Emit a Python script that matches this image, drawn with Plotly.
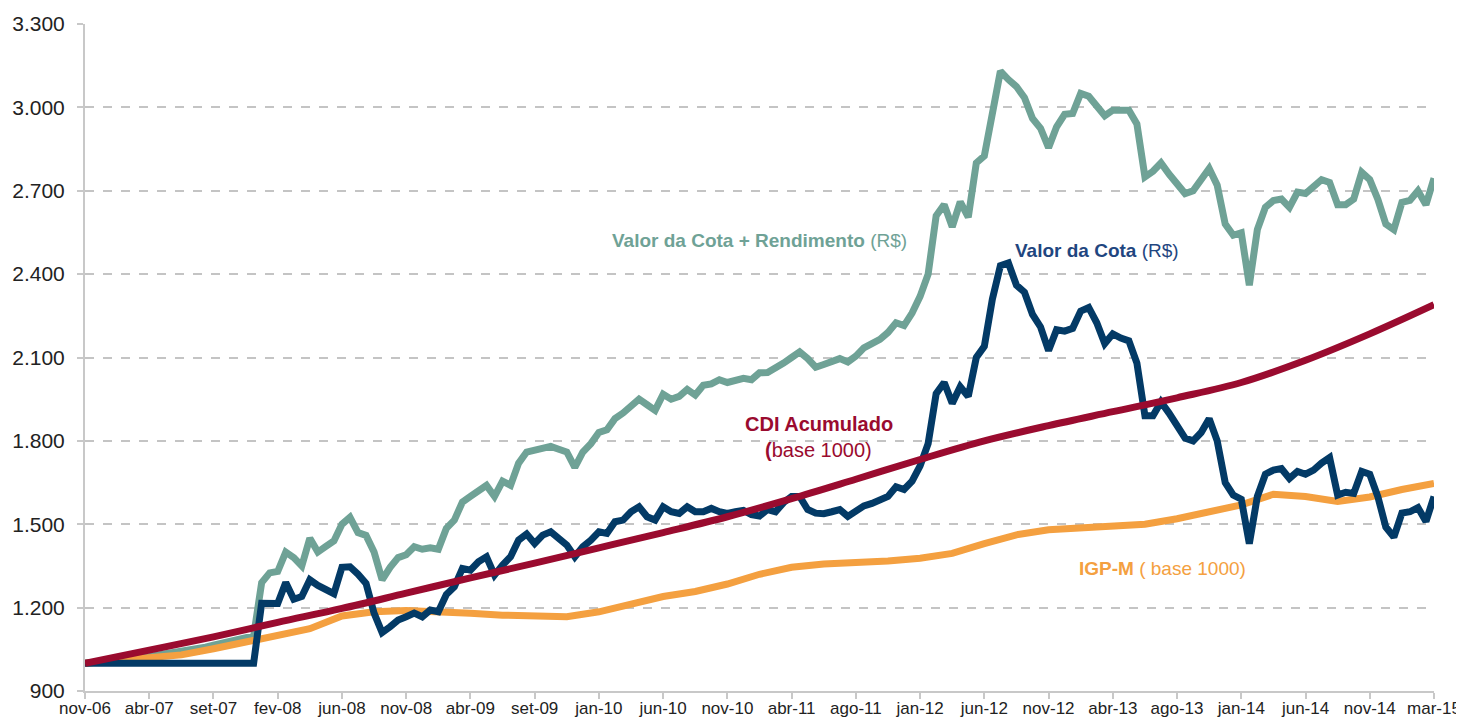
import plotly.graph_objects as go

# Tick labels (equally spaced category ticks, ~100 business days apart)
tick_labels = ["nov-06", "abr-07", "set-07", "fev-08", "jun-08", "nov-08", "abr-09",
               "set-09", "jan-10", "jun-10", "nov-10", "abr-11", "ago-11", "jan-12",
               "jun-12", "nov-12", "abr-13", "ago-13", "jan-14", "jun-14", "nov-14", "mar-15"]

# Valor da Cota (R$) - sampled 8 times per tick interval
valor_cota = [
    1000, 1000, 1000, 1000, 1000, 1000, 1000, 1000, 1000, 1000, 1000, 1000, 1000, 1000, 1000, 1000,
    1000, 1000, 1000, 1000, 1000, 1000, 1216, 1215, 1215, 1290, 1230, 1240, 1300, 1280, 1265, 1250,
    1345, 1347, 1320, 1287, 1180, 1110, 1131, 1155, 1167, 1180, 1167, 1191, 1185, 1247, 1275, 1341,
    1335, 1365, 1383, 1317, 1353, 1383, 1443, 1465, 1431, 1461, 1473, 1449, 1425, 1383, 1419, 1443,
    1473, 1467, 1509, 1515, 1545, 1563, 1527, 1515, 1563, 1545, 1539, 1563, 1545, 1545, 1557, 1545,
    1539, 1545, 1550, 1535, 1530, 1553, 1545, 1578, 1600, 1600, 1553, 1540, 1538, 1545, 1553, 1528,
    1545, 1566, 1575, 1590, 1600, 1635, 1625, 1655, 1710, 1790, 1970, 2010, 1935, 1995, 1960, 2100,
    2140, 2310, 2430, 2440, 2360, 2335, 2255, 2210, 2125, 2200, 2195, 2205, 2267, 2280, 2225, 2150,
    2185, 2170, 2160, 2080, 1890, 1890, 1940, 1900, 1860, 1810, 1800, 1830, 1880, 1800, 1650, 1605,
    1590, 1430, 1600, 1680, 1695, 1700, 1665, 1690, 1680, 1695, 1720, 1740, 1605, 1615, 1611, 1690,
    1680, 1600, 1490, 1454, 1540, 1545, 1560, 1510, 1600,
]

# Valor da Cota + Rendimento (R$) - sampled 8 times per tick interval
valor_cota_rend = [
    1000, 1002, 1004, 1007, 1010, 1013, 1017, 1020, 1024, 1028, 1032, 1036, 1041, 1046, 1051, 1058,
    1065, 1071, 1078, 1085, 1092, 1098, 1290, 1325, 1330, 1400, 1380, 1350, 1450, 1400, 1420, 1440,
    1500, 1525, 1470, 1460, 1400, 1300, 1345, 1380, 1390, 1419, 1410, 1415, 1410, 1485, 1515, 1580,
    1600, 1623, 1640, 1600, 1655, 1640, 1720, 1760, 1765, 1775, 1780, 1770, 1760, 1705, 1760, 1790,
    1830, 1840, 1880, 1900, 1925, 1950, 1930, 1910, 1968, 1950, 1960, 1985, 1965, 2000, 2005, 2020,
    2010, 2015, 2025, 2020, 2045, 2046, 2060, 2080, 2100, 2120, 2096, 2065, 2075, 2085, 2096, 2084,
    2105, 2135, 2150, 2165, 2190, 2225, 2215, 2260, 2320, 2400, 2610, 2650, 2570, 2660, 2605, 2800,
    2825, 2980, 3130, 3100, 3075, 3035, 2960, 2925, 2855, 2930, 2975, 2978, 3050, 3040, 3000, 2970,
    2990, 2992, 2990, 2940, 2750, 2770, 2800, 2760, 2727, 2690, 2700, 2740, 2780, 2720, 2580, 2540,
    2549, 2360, 2560, 2640, 2665, 2670, 2640, 2695, 2690, 2715, 2740, 2730, 2650, 2650, 2670, 2766,
    2740, 2670, 2580, 2560, 2658, 2665, 2700, 2650, 2745,
]

# CDI Acumulado (base 1000) - one value per tick
cdi = [1000, 1047, 1095, 1147, 1197, 1252, 1307, 1360, 1415, 1470, 1527,
       1592, 1662, 1733, 1800, 1855, 1905, 1955, 2010, 2090, 2185, 2290]

# IGP-M (base 1000) - two values per tick interval
igpm = [1000, 1008, 1018, 1030, 1052, 1077, 1105, 1124, 1170, 1185, 1190, 1188, 1180, 1173,
        1168, 1167, 1185, 1215, 1240, 1258, 1285, 1320, 1345, 1357, 1360, 1368, 1378, 1395,
        1430, 1462, 1480, 1488, 1494, 1500, 1520, 1548, 1570, 1608, 1600, 1582, 1598, 1625, 1647]

y_ticks = [900, 1200, 1500, 1800, 2100, 2400, 2700, 3000, 3300]

TEAL = "#6FA296"
NAVY = "#033A66"
CDI_RED = "#9A0B2F"
ORANGE = "#F4A040"

x_fine = [i / 8 for i in range(len(valor_cota))]
x_cdi = list(range(len(cdi)))
x_igp = [j / 2 for j in range(len(igpm))]

fig = go.Figure()
fig.add_trace(go.Scatter(x=x_fine, y=valor_cota_rend, mode="lines",
                         line=dict(color=TEAL, width=7), name="Valor da Cota + Rendimento"))
fig.add_trace(go.Scatter(x=x_igp, y=igpm, mode="lines",
                         line=dict(color=ORANGE, width=7), name="IGP-M"))
fig.add_trace(go.Scatter(x=x_fine, y=valor_cota, mode="lines",
                         line=dict(color=NAVY, width=7), name="Valor da Cota"))
fig.add_trace(go.Scatter(x=x_cdi, y=cdi, mode="lines",
                         line=dict(color=CDI_RED, width=7, shape="spline"), name="CDI Acumulado"))

FONT = "Liberation Sans, Arial, sans-serif"

annotations = [
    dict(x=8.18, y=2522, xanchor="left", yanchor="middle",
         text="<b>Valor da Cota + Rendimento</b> (R$)", font=dict(color=TEAL, size=19, family=FONT)),
    dict(x=14.44, y=2486, xanchor="left", yanchor="middle",
         text="<b>Valor da Cota</b> (R$)", font=dict(color="#1F4680", size=19, family=FONT)),
    dict(x=11.43, y=1860, xanchor="center", yanchor="middle",
         text="<b>CDI Acumulado</b>", font=dict(color=CDI_RED, size=20, family=FONT)),
    dict(x=11.42, y=1767, xanchor="center", yanchor="middle",
         text="<b>(</b>base 1000)", font=dict(color=CDI_RED, size=20, family=FONT)),
    dict(x=15.45, y=1339, xanchor="left", yanchor="middle",
         text="<b>IGP-M</b> ( base 1000)", font=dict(color=ORANGE, size=19, family=FONT)),
]
for a in annotations:
    a.update(xref="x", yref="y", showarrow=False)

# The page body has an 8px margin, so the figure is sized/margined to compensate.
fig.update_layout(
    width=1456, height=712,
    margin=dict(l=77, r=30, t=16, b=29),
    plot_bgcolor="white", paper_bgcolor="white",
    showlegend=False,
    separators=",.",
    font=dict(family=FONT, color="#222222"),
    annotations=annotations,
)
fig.update_xaxes(
    range=[0, 21], tickmode="array", tickvals=list(range(len(tick_labels))), ticktext=tick_labels,
    showgrid=False, zeroline=False, showline=True, linecolor="#C8C8C8", linewidth=2,
    ticks="outside", ticklen=6, tickcolor="#C8C8C8", tickwidth=2, automargin=False,
    tickfont=dict(size=17, color="#222222"), ticklabelstandoff=-5,
)
fig.update_yaxes(
    range=[900, 3300], tickmode="array", tickvals=y_ticks, tickformat=",d",
    showgrid=True, gridcolor="#C4C4C4", gridwidth=1.5, griddash="dash",
    zeroline=False, showline=True, linecolor="#C8C8C8", linewidth=2,
    ticks="outside", ticklen=6, tickcolor="#C8C8C8", tickwidth=2, automargin=False,
    tickfont=dict(size=21, color="#222222"), ticklabelstandoff=8,
)

fig.write_html("out.html")
